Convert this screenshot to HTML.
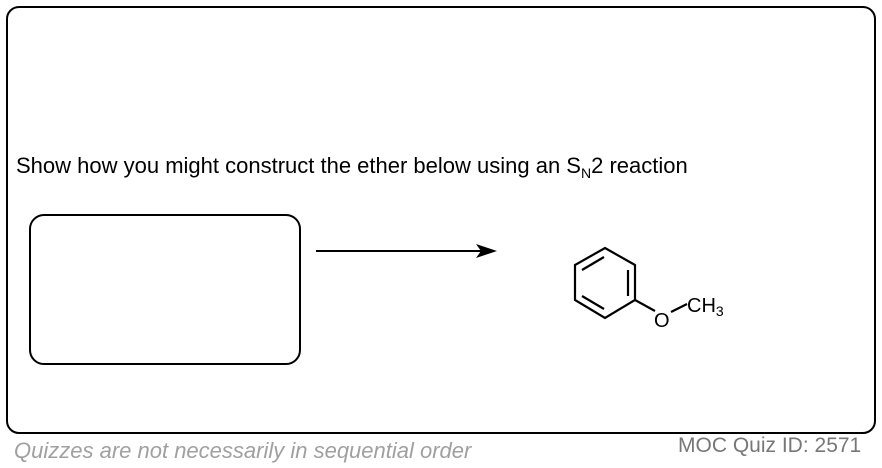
<!DOCTYPE html>
<html><head><style>
body{margin:0;width:882px;height:468px;background:#fff;position:relative;overflow:hidden;font-family:"Liberation Sans",Arial,sans-serif}
.t{position:absolute;white-space:nowrap}
</style></head><body>
<div style="position:absolute;left:6px;top:6px;width:866px;height:424px;border:2px solid #000;border-radius:13px"></div>
<div style="position:absolute;left:29px;top:214px;width:268px;height:147px;border:2px solid #000;border-radius:15px"></div>
<div class="t" style="left:16px;top:153px;font-size:22px;color:#000">Show how you might construct the ether below using an S<sub style="font-size:14px;vertical-align:-5px">N</sub>2 reaction</div>
<svg style="position:absolute;left:0;top:0" width="882" height="468">
<line x1="316" y1="251" x2="484" y2="251" stroke="#000" stroke-width="2"/>
<polygon points="497,251 476,244 481,251 476,258" fill="#000"/>
<g stroke="#000" stroke-width="2.2" fill="none">
<polygon points="605,248 635,265 635,300 605,318 575,300 575,265"/>
<line x1="582" y1="270" x2="604" y2="257"/>
<line x1="628" y1="270" x2="628" y2="296"/>
<line x1="582" y1="296" x2="604" y2="309"/>
<line x1="635" y1="300" x2="655" y2="311"/>
<line x1="671" y1="312" x2="687" y2="304"/>
</g>
<text x="654" y="327" font-family="Liberation Sans,Arial,sans-serif" font-size="20">O</text>
<text x="687" y="312" font-family="Liberation Sans,Arial,sans-serif" font-size="20">CH<tspan font-size="14" dy="4">3</tspan></text>
</svg>
<div class="t" style="left:14px;top:438px;font-size:22px;font-style:italic;color:#a0a0a0">Quizzes are not necessarily in sequential order</div>
<div class="t" style="left:678px;top:434px;font-size:21px;color:#777">MOC Quiz ID: 2571</div>
</body></html>
